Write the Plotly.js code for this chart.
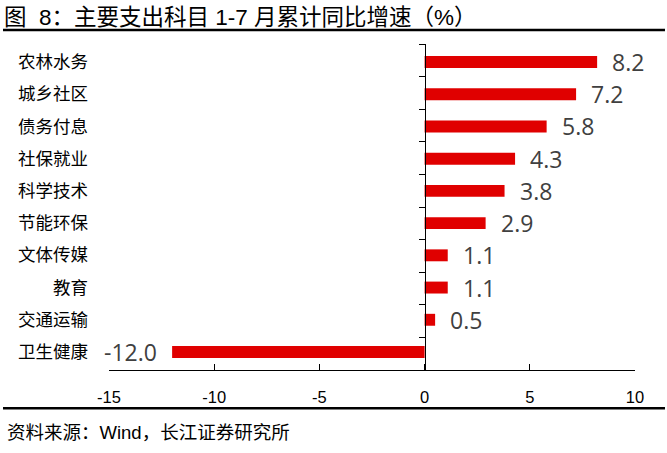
<!DOCTYPE html>
<html>
<head>
<meta charset="utf-8">
<script src="https://cdn.plot.ly/plotly-3.0.1.min.js"></script>
<style>html,body{margin:0;padding:0;background:#fff;}#chart{width:667px;height:453px;}</style>
</head>
<body>
<div id="chart"></div>
<script>
// Data (top to bottom as shown)
const categories = ["农林水务","城乡社区","债务付息","社保就业","科学技术","节能环保","文体传媒","教育","交通运输","卫生健康"];
const values = [8.2, 7.2, 5.8, 4.3, 3.8, 2.9, 1.1, 1.1, 0.5, -12.0];
const xTicks = [-15, -10, -5, 0, 5, 10];

const titleText = "图&#160;&#160;8：主要支出科目 1-7 月累计同比增速（%）";
const sourceText = "资料来源：Wind，长江证券研究所";

const barTrace = {
  type: "bar",
  orientation: "h",
  x: values,
  y: categories,
  marker: {color: "#E00000"},
  hoverinfo: "skip",
  yaxis: "y"
};
const axisTrace = {
  type: "scatter",
  mode: "none",
  x: categories.map(() => 0),
  y: categories,
  yaxis: "y2",
  hoverinfo: "skip",
  showlegend: false
};

const valueAnnotations = values.map((v, i) => ({
  x: v,
  y: categories[i],
  xref: "x",
  yref: "y",
  text: v.toFixed(1),
  showarrow: false,
  xanchor: v >= 0 ? "left" : "right",
  xshift: v >= 0 ? 13 : -13,
  yanchor: "middle",
  font: {family: "Open Sans, Noto Sans, sans-serif", size: 23, color: "#404040"}
}));

const layout = {
  width: 667,
  height: 453,
  margin: {l: 109, r: 32, t: 44, b: 83, pad: 0},
  paper_bgcolor: "#ffffff",
  plot_bgcolor: "#ffffff",
  showlegend: false,
  bargap: 0.63,
  title: {
    text: titleText,
    xref: "container", yref: "container",
    x: 0.006, xanchor: "left",
    y: 1 - 17/453, yanchor: "middle",
    font: {family: "Liberation Sans, Noto Sans CJK SC, sans-serif", size: 22.5, color: "#000000"}
  },
  xaxis: {
    range: [-15, 10],
    tickvals: xTicks,
    ticktext: xTicks.map(String),
    ticks: "inside",
    ticklen: 6,
    tickcolor: "#000",
    tickwidth: 1,
    showline: true,
    linecolor: "#000",
    linewidth: 1,
    showgrid: false,
    zeroline: false,
    ticklabelstandoff: 12,
    tickfont: {family: "Liberation Sans, Arial, sans-serif", size: 16.5, color: "#000"},
    fixedrange: true
  },
  yaxis: {
    type: "category",
    categoryorder: "array",
    categoryarray: categories,
    autorange: "reversed",
    showline: false,
    ticks: "",
    showgrid: false,
    zeroline: false,
    ticklabelstandoff: 20,
    tickfont: {family: "Noto Sans CJK SC, sans-serif", size: 17.5, color: "#000"},
    fixedrange: true
  },
  yaxis2: {
    type: "category",
    categoryorder: "array",
    categoryarray: categories,
    autorange: "reversed",
    overlaying: "y",
    anchor: "free",
    position: 0.6,
    side: "left",
    showline: true,
    linecolor: "#000",
    linewidth: 1,
    ticks: "outside",
    tickson: "boundaries",
    ticklen: 6,
    tickcolor: "#000",
    showticklabels: false,
    showgrid: false,
    zeroline: false,
    fixedrange: true
  },
  shapes: [
    {type: "line", xref: "paper", yref: "paper", x0: -0.2015, x1: 1.057, y0: 1.043, y1: 1.043, line: {color: "#000", width: 2.5}},
    {type: "line", xref: "paper", yref: "paper", x0: -0.2015, x1: 1.057, y0: -0.117, y1: -0.117, line: {color: "#000", width: 2.5}}
  ],
  annotations: valueAnnotations.concat([
    {
      text: sourceText, xref: "paper", yref: "paper",
      x: -0.1977, y: -0.193, xanchor: "left", yanchor: "middle",
      showarrow: false,
      font: {family: "Liberation Sans, Noto Sans CJK SC, sans-serif", size: 18.5, color: "#000"}
    }
  ])
};

Plotly.newPlot("chart", [barTrace, axisTrace], layout, {displayModeBar: false, staticPlot: true});
</script>
</body>
</html>
